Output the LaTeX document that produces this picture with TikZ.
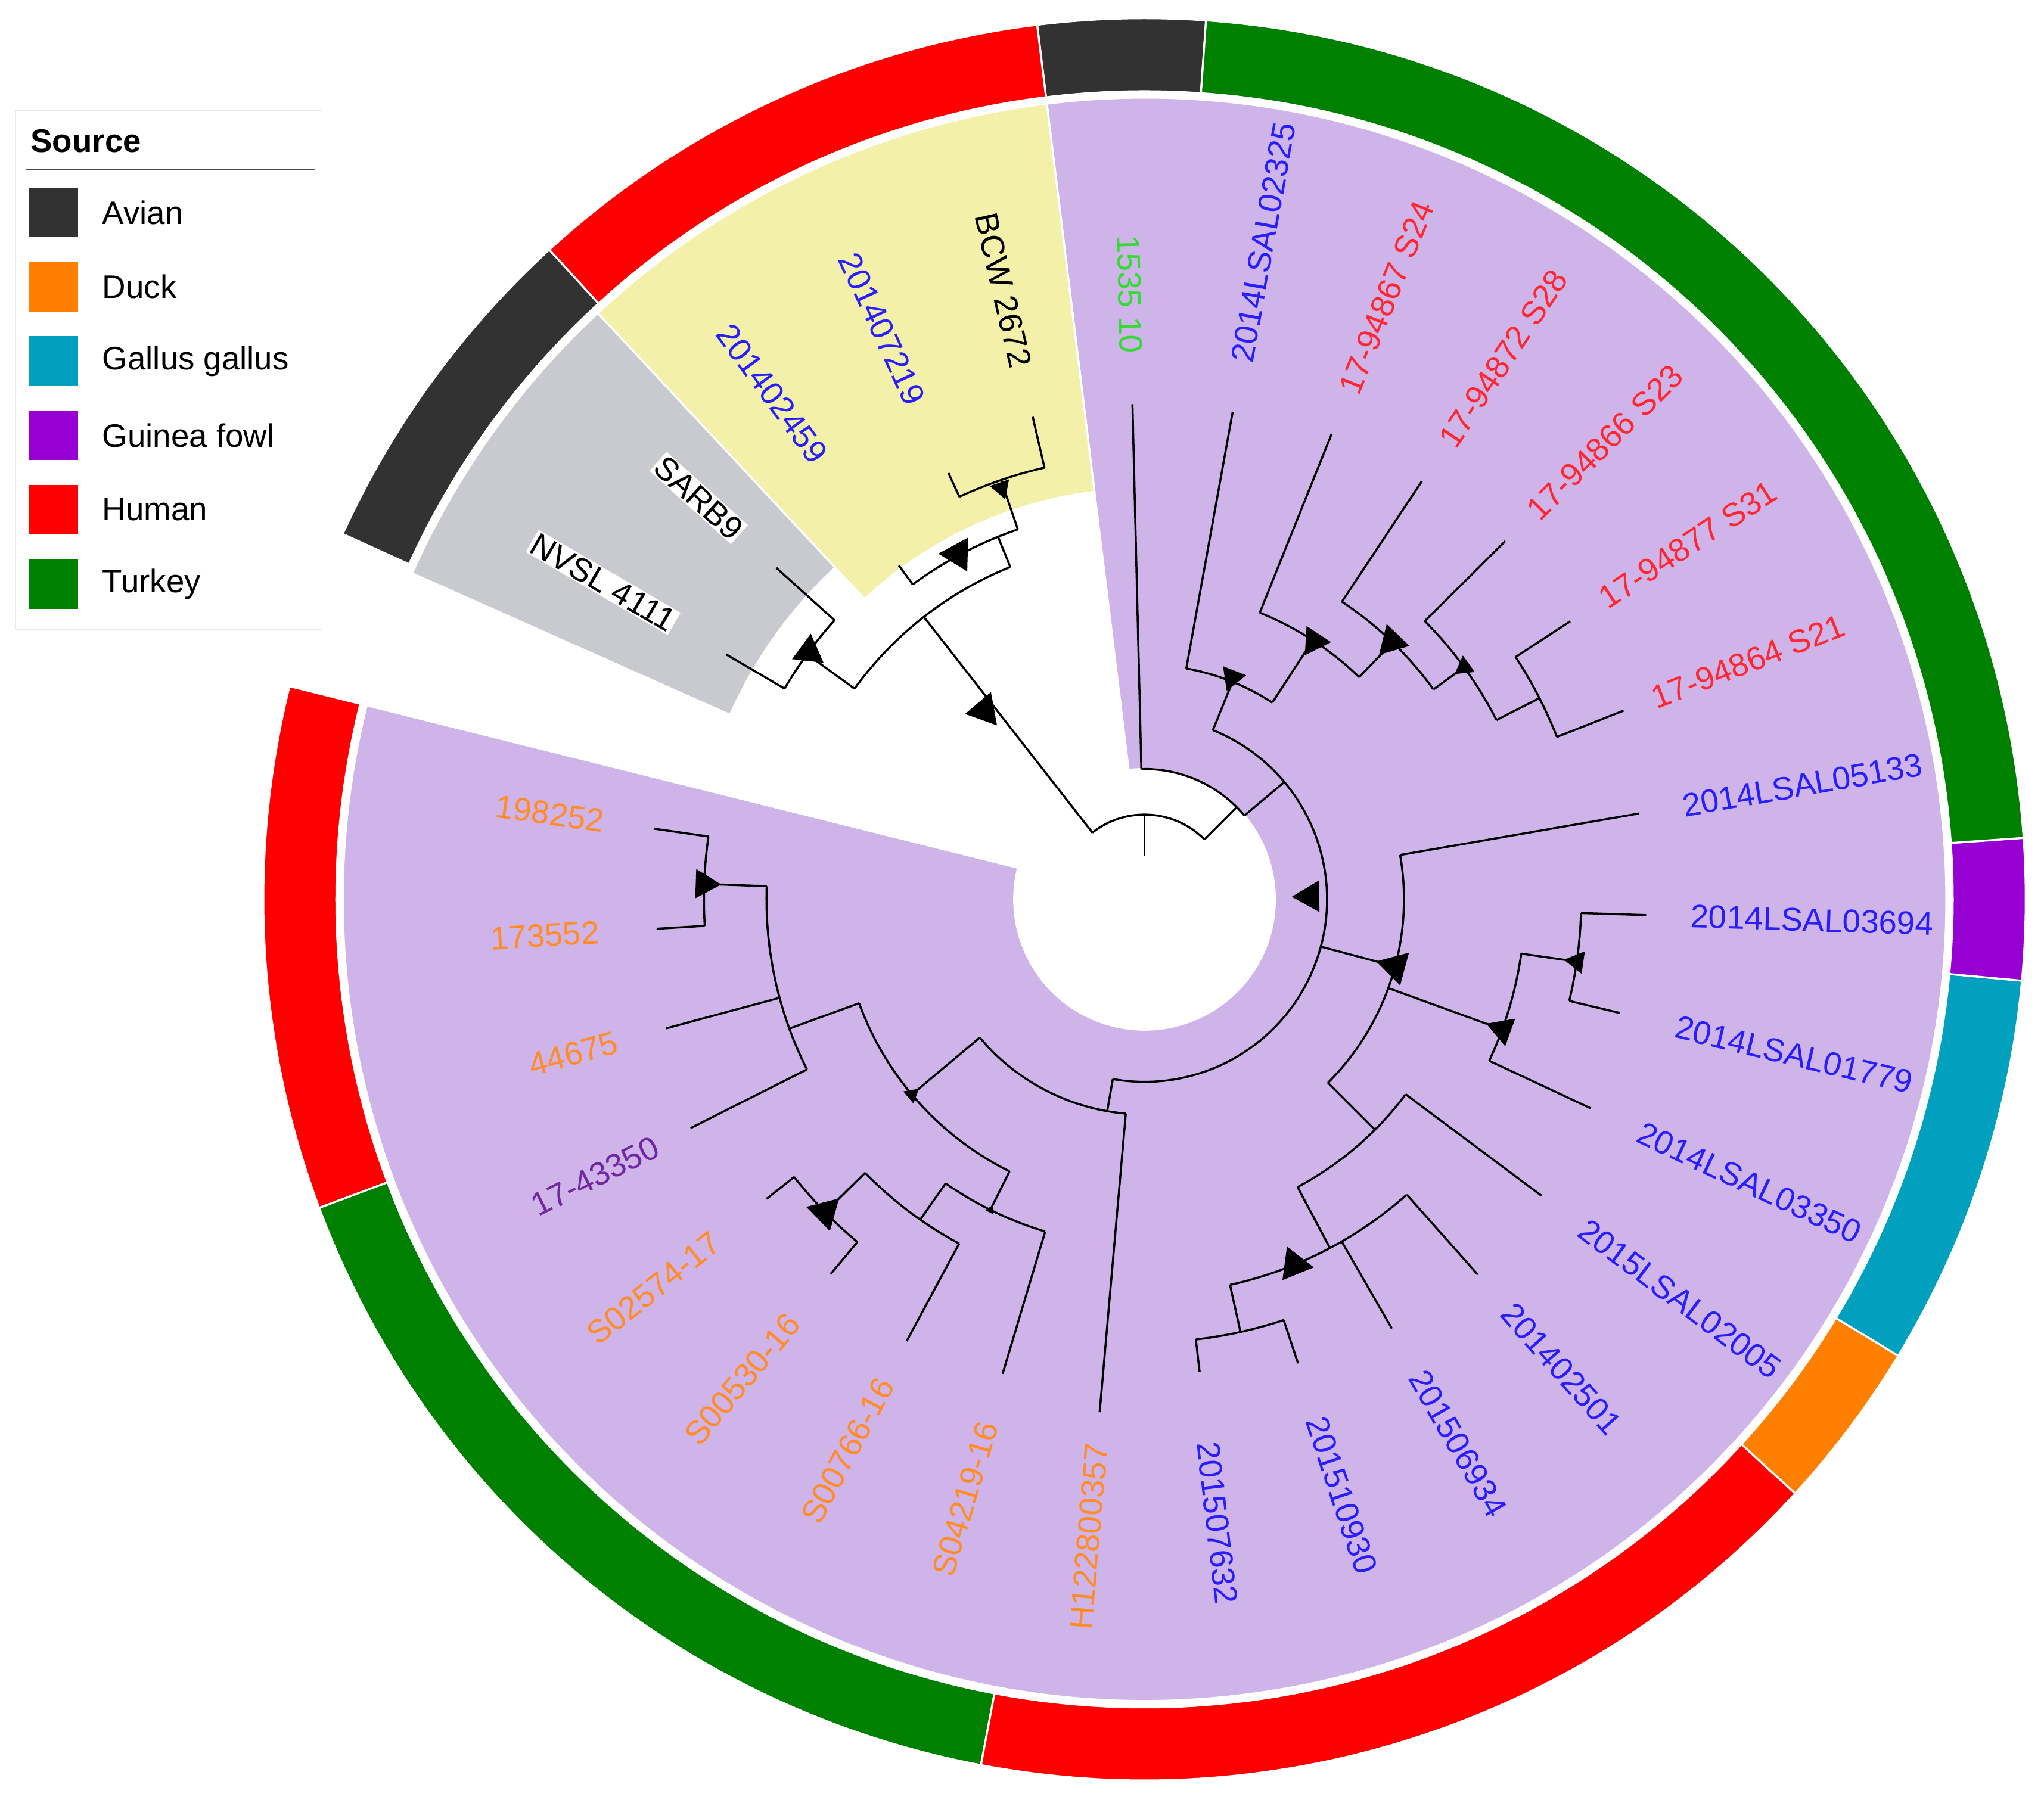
\documentclass[tikz,border=0pt]{standalone}
\usepackage{fontspec}
\setmainfont{Liberation Sans}
\usetikzlibrary{shapes.geometric}
\definecolor{lav}{RGB}{206,180,232}
\definecolor{yel}{RGB}{243,240,170}
\definecolor{gry}{RGB}{200,202,208}
\definecolor{cav}{RGB}{50,50,50}
\definecolor{cdu}{RGB}{255,128,0}
\definecolor{cga}{RGB}{0,160,190}
\definecolor{cgu}{RGB}{150,0,210}
\definecolor{chu}{RGB}{255,0,0}
\definecolor{ctu}{RGB}{0,128,0}
\definecolor{lblue}{RGB}{40,30,255}
\definecolor{lred}{RGB}{255,40,50}
\definecolor{lorg}{RGB}{255,140,40}
\definecolor{lpur}{RGB}{112,40,160}
\definecolor{lgrn}{RGB}{50,220,50}
\tikzset{br/.style={line width=1.6pt,black},
  tri/.style={regular polygon,regular polygon sides=3,fill=black,inner sep=0pt},
  lab/.style={font=\fontsize{25}{25}\selectfont,inner sep=1pt},
  leg/.style={font=\fontsize{25}{25}\selectfont,anchor=west}}
\newcommand\tarc[3]{\draw[br] (#2:#1pt) arc[start angle=#2,end angle=#3,radius=#1pt];}
\newcommand\trad[3]{\draw[br] (#1:#2pt) -- (#1:#3pt);}
\newcommand\mk[3]{\node[tri,minimum size=#3pt,rotate=#2+90] at (#2:#1pt) {};}
\newcommand\ring[3]{\fill[#3,draw=white,line width=1.5pt] (#1:620pt) arc[start angle=#1,end angle=#2,radius=620pt] -- (#2:676pt) arc[start angle=#2,end angle=#1,radius=676pt] -- cycle;}
\newcommand\sect[5]{\fill[#5,draw=white,line width=1.5pt] (#1:#3pt) arc[start angle=#1,end angle=#2,radius=#3pt] -- (#2:#4pt) arc[start angle=#2,end angle=#1,radius=#4pt] -- cycle;}
\newcommand\rightlab[3]{\node[lab,anchor=west,rotate=#1,text=#2] at (#1:418pt) {#3};}
\newcommand\leftlab[3]{\node[lab,anchor=east,rotate=#1+180,text=#2] at (#1:418pt) {#3};}
\begin{document}
\begin{tikzpicture}
\useasboundingbox[fill=white] (-878pt,-693pt) rectangle (690pt,690pt);
% sectors
\sect{166}{457}{100}{615}{lav}
\sect{97}{133}{315}{615}{yel}
\sect{133}{156}{348}{615}{gry}
% rings
\ring{86}{97}{cav}
\ring{97}{132.5}{chu}
\ring{132.5}{155.5}{cav}
\ring{166}{200.5}{chu}
\ring{200.5}{259.3}{ctu}
\ring{259.3}{317.6}{chu}
\ring{317.6}{328.8}{cdu}
\ring{328.8}{354.7}{cga}
\ring{354.7}{364}{cgu}
\ring{4}{86}{ctu}
% tree: root
\trad{90}{33}{65}
\tarc{65}{128}{45}
% outgroup
\trad{128}{65}{275}
\tarc{275}{112}{144}
\trad{144}{275}{320}
\tarc{320}{138}{149.65}
\trad{138}{320}{380}
\trad{149.65}{320}{372}
\trad{112}{275}{300}
\tarc{300}{108.9}{126.35}
\trad{126.35}{300}{318}
\trad{108.9}{300}{340}
\tarc{340}{103.05}{114.7}
\trad{103.05}{340}{380}
\trad{114.7}{340}{360}
% ingroup
\trad{45}{65}{100}
\tarc{100}{91.4}{40}
\trad{91.4}{100}{380}
\trad{40}{100}{140}
\tarc{140}{68}{-100}
% top group
\trad{68}{140}{180}
\tarc{180}{79.75}{57}
\trad{79.75}{180}{380}
\trad{57}{180}{237}
\tarc{237}{68.1}{46}
\trad{68.1}{237}{385}
\trad{46}{237}{274}
\tarc{274}{56.45}{36}
\trad{56.45}{274}{385}
\trad{36}{274}{303}
\tarc{303}{44.8}{27}
\trad{44.8}{303}{390}
\trad{27}{303}{340}
\tarc{340}{33.15}{21.5}
\trad{33.15}{340}{390}
\trad{21.5}{340}{395}
% right group
\trad{-15}{140}{199}
\tarc{199}{9.85}{-45}
\trad{9.85}{199}{385}
\trad{-20}{199}{292}
\tarc{292}{-8.2}{-25.1}
\trad{-25.1}{292}{378}
\trad{-8.2}{292}{335}
\tarc{335}{-1.8}{-13.45}
\trad{-1.8}{335}{385}
\trad{-13.45}{335}{375}
\trad{-45}{199}{250}
\tarc{250}{-36.75}{-62}
\trad{-36.75}{250}{380}
\trad{-62}{250}{303}
\tarc{303}{-48.4}{-77.5}
\trad{-48.4}{303}{385}
\trad{-60.05}{303}{380}
\trad{-77.5}{303}{340}
\tarc{340}{-71.7}{-83.35}
\trad{-71.7}{340}{375}
\trad{-83.35}{340}{365}
% lower-left group
\trad{-100}{140}{165}
\tarc{165}{-95}{-140}
\trad{-95}{165}{395}
\trad{-140}{165}{233}
\tarc{233}{-116.4}{-160}
\trad{-116.4}{233}{266}
\tarc{266}{-106.65}{-125}
\trad{-106.65}{266}{380}
\trad{-125}{266}{300}
\tarc{300}{-118.3}{-135.6}
\trad{-118.3}{300}{385}
\trad{-135.6}{300}{343}
\tarc{343}{-129.95}{-141.6}
\trad{-129.95}{343}{375}
\trad{-141.6}{343}{370}
\trad{-160}{233}{290}
\tarc{290}{-153.25}{-182}
\trad{-153.25}{290}{390}
\trad{-164.9}{290}{380}
\trad{-182}{290}{338}
\tarc{338}{-176.55}{-188.2}
\trad{-176.55}{338}{375}
\trad{-188.2}{338}{380}
% markers
\mk{190}{130.3}{30}
\mk{320}{143.6}{28}
\mk{301}{118.4}{30}
\mk{334}{109.2}{18}
\mk{183}{68.5}{22}
\mk{237}{56.7}{26}
\mk{274}{46.2}{28}
\mk{303}{36}{18}
\mk{127}{1}{28}
\mk{199}{-15}{30}
\mk{292}{-20}{26}
\mk{335}{-8.2}{20}
\mk{338}{178}{26}
\mk{343}{224.4}{30}
\mk{233}{220}{14}
\mk{266}{243.6}{8}
\mk{303}{-67.7}{30}
% labels
\leftlab{91.4}{lgrn}{1535 10}
\rightlab{79.75}{lblue}{2014LSAL02325}
\rightlab{68.1}{lred}{17-94867 S24}
\rightlab{56.45}{lred}{17-94872 S28}
\rightlab{44.8}{lred}{17-94866 S23}
\rightlab{33.15}{lred}{17-94877 S31}
\rightlab{21.5}{lred}{17-94864 S21}
\rightlab{9.85}{lblue}{2014LSAL05133}
\rightlab{-1.8}{lblue}{2014LSAL03694}
\rightlab{-13.45}{lblue}{2014LSAL01779}
\rightlab{-25.1}{lblue}{2014LSAL03350}
\rightlab{-36.75}{lblue}{2015LSAL02005}
\rightlab{-48.4}{lblue}{201402501}
\rightlab{-60.05}{lblue}{201506934}
\rightlab{-71.7}{lblue}{201510930}
\rightlab{-83.35}{lblue}{201507632}
\leftlab{265}{lorg}{H122800357}
\leftlab{253.35}{lorg}{S04219-16}
\leftlab{241.7}{lorg}{S00766-16}
\leftlab{230.05}{lorg}{S00530-16}
\leftlab{218.4}{lorg}{S02574-17}
\leftlab{206.75}{lpur}{17-43350}
\leftlab{195.1}{lorg}{44675}
\leftlab{183.45}{lorg}{173552}
\leftlab{171.8}{lorg}{198252}
\leftlab{103.05}{black}{BCW 2672}
\leftlab{114.7}{lblue}{201407219}
\leftlab{126.35}{lblue}{201402459}
\leftlab{138}{black,fill=white}{SARB9}
\leftlab{149.65}{black,fill=white}{NVSL 4111}
% legend
\draw[draw=black!8,fill=white] (-866pt,605pt) rectangle (-631pt,207pt);
\node[font=\bfseries\fontsize{25}{25}\selectfont,anchor=west] (lt) at (-858pt,582pt) {Source};
\draw[black!70,line width=1pt] (-858pt,560pt) -- (-636pt,560pt);
\foreach \c/\t [count=\i from 0] in {cav/Avian,cdu/Duck,cga/Gallus gallus,cgu/Guinea fowl,chu/Human,ctu/Turkey}{
  \fill[\c] (-856pt,{(546-57*\i)*1pt}) rectangle (-818pt,{(508-57*\i)*1pt});
  \node[leg] at (-803pt,{(527-57*\i)*1pt}) {\t};
}
\end{tikzpicture}
\end{document}
